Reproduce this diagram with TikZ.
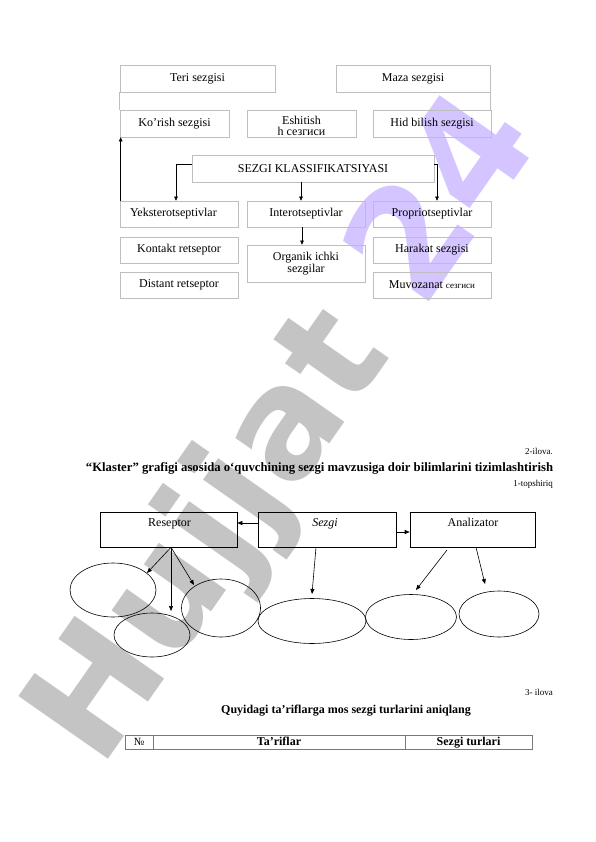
\documentclass[tikz,border=0pt]{standalone}
\usepackage{fontspec}
\setmainfont{Liberation Serif}
\newfontfamily\wmfont{DejaVu Sans}
\usetikzlibrary{arrows.meta,shapes.geometric}
\definecolor{boxgrey}{RGB}{190,190,190}
\definecolor{wmgrey}{RGB}{196,196,196}
\definecolor{wmpurple}{RGB}{212,196,255}
\definecolor{tablegrey}{RGB}{120,120,120}
\begin{document}
\begin{tikzpicture}[x=1pt,y=-1pt,
  tbox/.style={draw=boxgrey, line width=0.6pt, minimum height=27pt, inner sep=0pt, font=\fontsize{12}{12}\selectfont, align=center},
  tarr/.style={-{Triangle[length=4pt,width=3.5pt]}, line width=0.5pt, draw=black},
  tline/.style={draw=boxgrey, line width=0.6pt},
  bbox/.style={draw, line width=0.6pt, minimum height=35pt, inner sep=0pt},
  barr/.style={-{Triangle[length=5pt,width=4pt]}, line width=0.6pt},
  oval/.style={draw, ellipse, line width=0.6pt, inner sep=0pt},
  txt/.style={inner sep=0pt, text height=8.5pt, text depth=2.5pt, font=\fontsize{12}{12}\selectfont},
  small/.style={inner sep=0pt, font=\fontsize{9}{9}\selectfont},
  cell/.style={draw=tablegrey, line width=0.8pt, minimum height=14pt, inner sep=0pt, text height=8.5pt, text depth=2.5pt, font=\bfseries\fontsize{12}{12}\selectfont}
]
\useasboundingbox (0,0) rectangle (596,842);
\fill[white] (0,0) rectangle (596,842);

% watermark
\node[rotate=55, inner sep=0pt, font=\wmfont\bfseries\fontsize{150}{150}\selectfont] (wm) at (288,432)
  {\textcolor{wmgrey}{Hujjat} \textcolor{wmpurple}{24}};

% ---------- top classification diagram ----------
\node[tbox, minimum width=155pt] (teri) at (197.5,78.5) {Teri sezgisi};
\node[tbox, minimum width=154pt] (maza) at (413,78.5) {Maza sezgisi};
\node[tbox, minimum width=109pt] (korish) at (174.5,123.5) {Ko’rish sezgisi};
\node[tbox, minimum width=109pt] (eshit) at (301.5,123.5) {};
\node[txt] (eshit1) at (301.5,121.5) {Eshitish};
\node[txt] (eshit2) at (301.5,133) {h сезгиси};
\node[tbox, minimum width=118pt] (hid) at (432,123.5) {Hid bilish sezgisi};
\node[tbox, minimum width=242pt] (sezk) at (313,168.5) {SEZGI KLASSIFIKATSIYASI};

\node[tbox, minimum width=118pt, minimum height=26pt, text width=98pt, align=left] (yeks) at (179,214) {Yeksterotseptivlar};
\node[tbox, minimum width=118pt, minimum height=26pt] (inter) at (306,214) {Interotseptivlar};
\node[tbox, minimum width=118pt, minimum height=26pt] (propr) at (432,214) {Propriotseptivlar};
\node[tbox, minimum width=118pt, minimum height=26pt] (kont) at (179,250) {Kontakt retseptor};
\node[tbox, minimum width=118pt, minimum height=26pt] (dist) at (179,285) {Distant retseptor};
\node[tbox, minimum width=118pt, minimum height=37pt] (organ) at (306,263.5) {Organik ichki\\sezgilar};
\node[tbox, minimum width=118pt, minimum height=26pt] (harak) at (432,250) {Harakat sezgisi};
\node[tbox, minimum width=118pt, minimum height=26pt] (muvoz) at (432,285) {Muvozanat {\fontsize{9}{9}\selectfont сезгиси}};

\draw[tline] (teri.south west) -- (korish.north west);
\draw[tline] (maza.south east) -- (maza.south east |- hid.north);
\draw[tarr] ([yshift=4.5pt]sezk.west) -| ([xshift=-3pt]yeks.north);
\draw[tarr] ([yshift=4.5pt]sezk.east) -| ([xshift=5pt]propr.north);
\draw[tarr] ([xshift=-5pt]inter.north |- sezk.south) -- ([xshift=-5pt]inter.north);
\draw[tarr] ([xshift=-4pt]inter.south) -- ([xshift=-4pt]organ.north);
\draw[tarr] ([xshift=1pt]yeks.north west) -- ([xshift=1pt]korish.south west);

% ---------- texts ----------
\node[small, anchor=east] (ilova2) at (553,451) {2-ilova.};
\node[inner sep=0pt, font=\bfseries\fontsize{12.7}{13}\selectfont] (title1) at (319.5,468)
  {“Klaster” grafigi asosida o‘quvchining sezgi mavzusiga doir bilimlarini tizimlashtirish};
\node[small, anchor=east] (tops) at (553,484) {1-topshiriq};

% ---------- cluster diagram ----------
\node[bbox, minimum width=137pt] (resep) at (168.5,529.5) {};
\node[bbox, minimum width=138pt] (sez) at (327,529.5) {};
\node[bbox, minimum width=125pt] (anal) at (472.5,529.5) {};
\node[txt] (resepT) at (169.5,523) {Reseptor};
\node[txt] (sezT) at (325,523) {\textit{Sezgi}};
\node[txt] (analT) at (473,523) {Analizator};

\draw[barr] ([yshift=6.5pt]sez.west) -- ([yshift=6.5pt]resep.east);
\draw[barr] ([yshift=-2.5pt]sez.east) -- ([yshift=-2.5pt]anal.west);

\node[oval, minimum width=86pt, minimum height=54pt] (e1) at (113,590) {};
\node[oval, minimum width=76pt, minimum height=44pt] (e2) at (152,635) {};
\node[oval, minimum width=79pt, minimum height=58pt] (e3) at (221,608) {};
\node[oval, minimum width=108pt, minimum height=45pt] (e4) at (312,621) {};
\node[oval, minimum width=91pt, minimum height=45pt] (e5) at (411,617) {};
\node[oval, minimum width=80pt, minimum height=46pt] (e6) at (499,614) {};

\coordinate (r0) at ([xshift=2.5pt]resep.south);
\coordinate (t1) at (147,573);
\coordinate (t2) at (171,611);
\coordinate (t3) at (194,585);
\coordinate (s0) at ([xshift=-11pt]sez.south);
\coordinate (t4) at (312,594);
\coordinate (a0) at (447,550);
\coordinate (t5) at (416,590);
\coordinate (a2) at ([xshift=3.5pt]anal.south);
\coordinate (t6) at (485,584);
\draw[barr] (r0) -- (t1);
\draw[barr] (r0) -- (t2);
\draw[barr] (r0) -- (t3);
\draw[barr] (s0) -- (t4);
\draw[barr] (a0) -- (t5);
\draw[barr] (a2) -- (t6);

% ---------- table ----------
\node[small, anchor=east] (ilova3) at (553,692) {3- ilova};
\node[inner sep=0pt, font=\bfseries\fontsize{12}{12}\selectfont] (title2) at (346,711)
  {Quyidagi ta’riflarga mos sezgi turlarini aniqlang};
\node[cell, minimum width=28pt, font=\fontsize{11}{11}\selectfont] (c1) at (139,742) {№};
\node[cell, minimum width=252pt] (c2) at (279,742) {Ta’riflar};
\node[cell, minimum width=127pt] (c3) at (468.5,742) {Sezgi turlari};
\end{tikzpicture}
\end{document}
